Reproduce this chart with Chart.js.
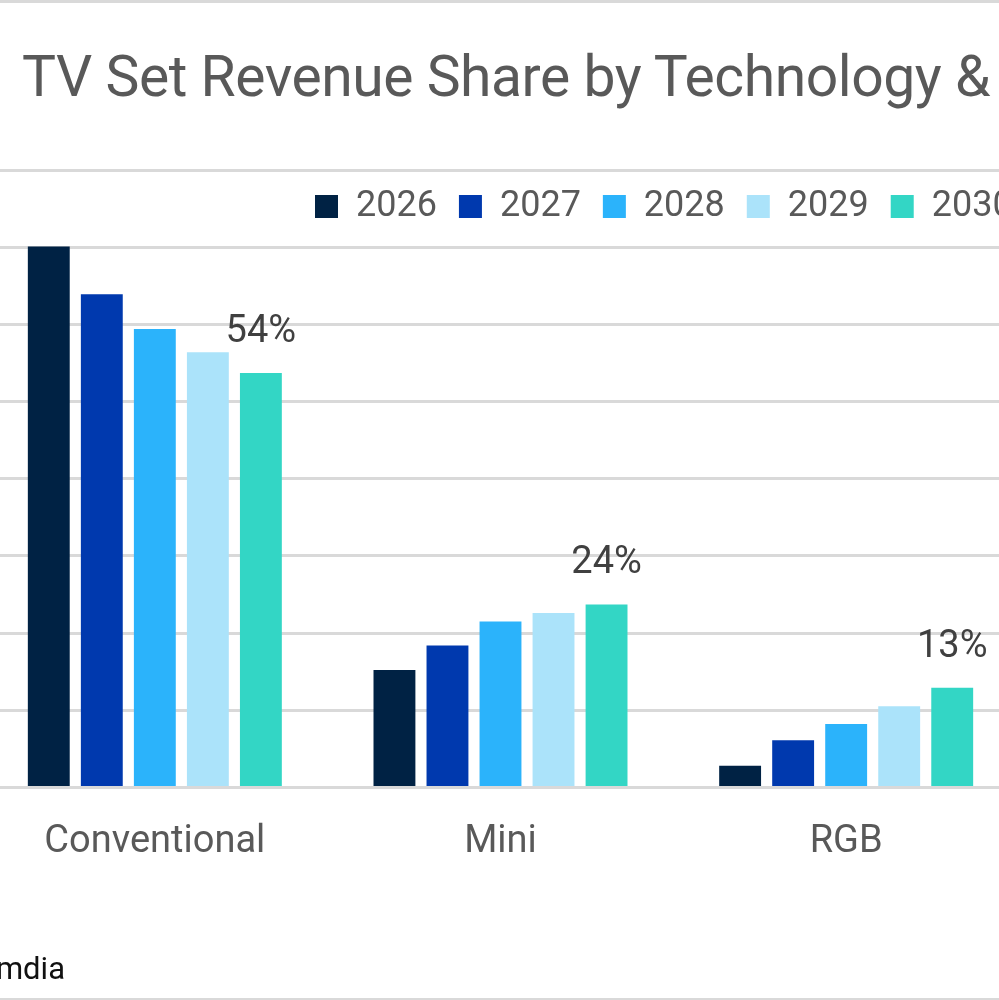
<!DOCTYPE html>
<html>
<head>
<meta charset="utf-8">
<script src="https://cdn.jsdelivr.net/npm/chart.js@4.4.1/dist/chart.umd.min.js"></script>
<style>
  html, body { margin: 0; padding: 0; background: #fff; }
  body { width: 999px; height: 1000px; position: relative; overflow: hidden; font-family: Roboto, "Noto Sans", sans-serif; }
  #frame { position: absolute; left: -10px; top: 0; width: 1019px; height: 995px; border-top: 3px solid #d9d9d9; border-bottom: 3px solid #d9d9d9; }
  #title { position: absolute; left: 22px; top: 48px; font-size: 57px; line-height: 57px; letter-spacing: -0.45px; color: #595959; white-space: nowrap; }
  #source { position: absolute; left: -235px; width: 300px; top: 953px; text-align: right; font-size: 31px; line-height: 32px; color: #111; white-space: nowrap; }
  #wrap { position: absolute; left: -18px; top: 0; width: 1037px; height: 1000px; }
</style>
</head>
<body>
<div id="frame"></div>
<div id="title">TV Set Revenue Share by Technology &amp;</div>
<div id="wrap"><canvas id="myChart"></canvas></div>
<div id="source">Source: Omdia</div>
<script>
var categories = ["Conventional", "Mini", "RGB"];
var years = ["2026", "2027", "2028", "2029", "2030"];
var share2026 = [70.1, 15.2, 2.8];
var share2027 = [63.9, 18.4, 6.1];
var share2028 = [59.4, 21.5, 8.2];
var share2029 = [56.4, 22.6, 10.5];
var share2030 = [53.7, 23.7, 12.9];
var labels2030 = ["54%", "24%", "13%"];
var barColors = ["#002244", "#0039AE", "#2BB3FB", "#ABE3FA", "#33D6C5"];

var allShares = [share2026, share2027, share2028, share2029, share2030];
var datasets = [];
for (var i = 0; i < years.length; i++) {
  datasets.push({
    label: years[i],
    data: allShares[i],
    backgroundColor: barColors[i],
    categoryPercentage: 0.767,
    barPercentage: 0.79
  });
}

// value labels over the 2030 bars only
var lastLabels = {
  id: "lastLabels",
  afterDatasetsDraw: function (chart) {
    var meta = chart.getDatasetMeta(4);
    var ctx = chart.ctx;
    ctx.save();
    ctx.font = "38px Roboto";
    ctx.fillStyle = "#404040";
    ctx.textAlign = "center";
    ctx.textBaseline = "alphabetic";
    meta.data.forEach(function (bar, k) {
      ctx.fillText(labels2030[k], bar.x, bar.y - 31);
    });
    ctx.restore();
  }
};

// legend sits inside the plot area, like the excel one
var moveLegend = {
  id: "moveLegend",
  afterLayout: function (chart) {
    var lg = chart.legend;
    var dx = 333 - (lg.right - lg.lineWidths[0]);
    var dy = 166.5 - lg.top;
    lg.left += dx; lg.right += dx;
    lg.top += dy; lg.bottom += dy;
  }
};

new Chart("myChart", {
  type: "bar",
  data: {
    labels: categories,
    datasets: datasets
  },
  options: {
    responsive: true,
    maintainAspectRatio: false,
    animation: false,
    layout: { padding: { top: 102, bottom: 111, left: 0, right: 0 } },
    plugins: {
      legend: {
        position: "top",
        align: "end",
        labels: {
          boxWidth: 23,
          boxHeight: 23,
          padding: 22,
          color: "#595959",
          font: { family: "Roboto", size: 36 }
        }
      },
      title: { display: false },
      tooltip: { enabled: false }
    },
    scales: {
      x: {
        grid: { display: false },
        border: { display: false },
        ticks: { color: "#595959", padding: 24, font: { family: "Roboto", size: 38 } }
      },
      y: {
        min: 0,
        max: 80,
        ticks: { display: false, stepSize: 10 },
        border: { display: false },
        grid: { color: "#d9d9d9", lineWidth: 3, drawTicks: false }
      }
    }
  },
  plugins: [lastLabels, moveLegend]
});
</script>
</body>
</html>
